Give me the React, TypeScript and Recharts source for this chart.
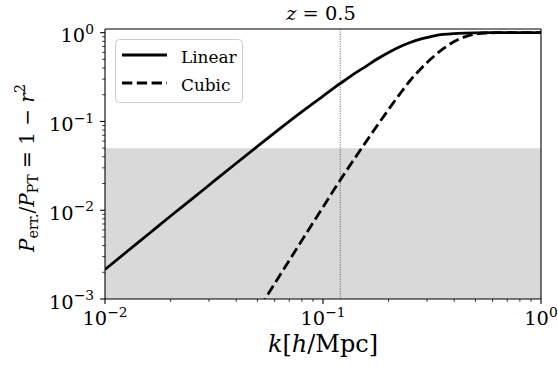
import React from 'react';
import {
  ComposedChart, Line, XAxis, YAxis, ReferenceArea, ReferenceLine, Customized,
} from 'recharts';

const FONT = "'DejaVu Serif', 'Liberation Serif', serif";

const kLinear = [0.01, 0.0125, 0.0158, 0.02, 0.025, 0.0316, 0.04, 0.05, 0.063, 0.079, 0.1, 0.112, 0.126, 0.141, 0.158, 0.178, 0.2, 0.224, 0.251, 0.282, 0.316, 0.355, 0.398, 0.447, 0.501, 0.562, 0.631, 0.708, 0.794, 0.891, 1.0];
const linearValues = [0.00215, 0.00336, 0.00536, 0.0086, 0.01334, 0.02123, 0.0338, 0.0523, 0.0818, 0.1255, 0.193, 0.238, 0.291, 0.352, 0.42, 0.508, 0.598, 0.69, 0.775, 0.85, 0.91, 0.955, 0.978, 0.99, 0.996, 0.999, 1.0, 1.0, 1.0, 1.0, 1.0];

const kCubic = [0.04, 0.05, 0.063, 0.079, 0.1, 0.112, 0.126, 0.141, 0.158, 0.178, 0.2, 0.224, 0.251, 0.282, 0.316, 0.355, 0.398, 0.447, 0.501, 0.562, 0.631, 0.708, 0.794, 0.891, 1.0];
const cubicValues = [0.000306, 0.00073, 0.0018, 0.00436, 0.01085, 0.01685, 0.02626, 0.03956, 0.0597, 0.0912, 0.1367, 0.2005, 0.2892, 0.3956, 0.5187, 0.657, 0.789, 0.897, 0.963, 0.9919, 0.9991, 1.0, 1.0, 1.0, 1.0];

const xTicks = [0.01, 0.02, 0.03, 0.04, 0.05, 0.06, 0.07, 0.08, 0.09, 0.1, 0.2, 0.3, 0.4, 0.5, 0.6, 0.7, 0.8, 0.9, 1];
const yTicks = [0.001, 0.002, 0.003, 0.004, 0.005, 0.006, 0.007, 0.008, 0.009, 0.01, 0.02, 0.03, 0.04, 0.05, 0.06, 0.07, 0.08, 0.09, 0.1, 0.2, 0.3, 0.4, 0.5, 0.6, 0.7, 0.8, 0.9, 1];

const seriesNames = ['Linear', 'Cubic'];
const shadeTop = 0.05;
const kMarker = 0.12;

const linearData = kLinear.map((k, i) => ({ k, y: linearValues[i] }));
const cubicData = kCubic.map((k, i) => ({ k, y: cubicValues[i] }));

const isMajor = (v: number) => Math.abs(Math.log10(v) - Math.round(Math.log10(v))) < 1e-9;
const expOf = (v: number) => {
  const e = Math.round(Math.log10(v));
  return e < 0 ? '\u2212' + Math.abs(e) : String(e);
};

const txt = { fontFamily: FONT };

const XTick = (props: any) => {
  const { x, y, payload } = props;
  const v = payload.value;
  const major = isMajor(v);
  return (
    <g>
      <line x1={x} x2={x} y1={y} y2={y + (major ? 4.9 : 2.8)} stroke="#000" strokeWidth={major ? 1.1 : 0.8} />
      {major && (
        <text x={x} y={y + 26} textAnchor="middle" style={txt} fontSize={19.4} fill="#000">
          10<tspan dy={-8.5} fontSize={13.8}>{expOf(v)}</tspan>
        </text>
      )}
    </g>
  );
};

const YTick = (props: any) => {
  const { x, y, payload } = props;
  const v = payload.value;
  const major = isMajor(v);
  return (
    <g>
      <line x1={x} x2={x - (major ? 4.9 : 2.8)} y1={y} y2={y} stroke="#000" strokeWidth={major ? 1.1 : 0.8} />
      {major && (
        <text x={x - 11} y={y + 9.6} textAnchor="end" style={txt} fontSize={19.4} fill="#000">
          10<tspan dy={-8.5} fontSize={13.8}>{expOf(v)}</tspan>
        </text>
      )}
    </g>
  );
};

const Texts = () => (
  <g fill="#000" style={txt}>
    <g>
      <rect x={115.5} y={39.5} width={127} height={63} rx={4} ry={4} fill="#fff" fillOpacity={0.8} stroke="#cccccc" strokeWidth={1} />
      <line x1={122} x2={167} y1={55} y2={55} stroke="#000" strokeWidth={2.8} />
      <line x1={122} x2={167} y1={83} y2={83} stroke="#000" strokeWidth={2.8} strokeDasharray="10.3 4.5" />
      <text x={181} y={63} style={txt} fontSize={16.9}>{seriesNames[0]}</text>
      <text x={181} y={91} style={txt} fontSize={16.9}>{seriesNames[1]}</text>
    </g>
    <text x={321} y={20} textAnchor="middle" style={txt} fontSize={19.4}>
      <tspan fontStyle="italic">z</tspan> = 0.5
    </text>
    <text x={323} y={352} textAnchor="middle" style={txt} fontSize={24}>
      <tspan fontStyle="italic">k</tspan>[<tspan fontStyle="italic">h</tspan>/Mpc]
    </text>
    <text transform="translate(34,168) rotate(-90)" textAnchor="middle" style={txt} fontSize={20}>
      <tspan fontStyle="italic">P</tspan>
      <tspan dy={4} fontSize={14.2}>err.</tspan>
      <tspan dy={-4}>/</tspan>
      <tspan fontStyle="italic">P</tspan>
      <tspan dy={4} fontSize={14.2}>PT</tspan>
      <tspan dy={-4}> = 1 − </tspan>
      <tspan fontStyle="italic">r</tspan>
      <tspan dy={-9} fontSize={14.2}>2</tspan>
    </text>
  </g>
);

export default function App() {
  return (
    <div style={{ position: 'absolute', left: 0, top: 0, background: '#fff' }}>
      <ComposedChart width={558} height={370} margin={{ top: 29, right: 17, bottom: 0, left: 0 }}>
        <XAxis
          dataKey="k" type="number" scale="log" domain={[0.01, 1]} allowDataOverflow
          ticks={xTicks} interval={0} tickSize={0} tickMargin={0} tickLine={false}
          axisLine={{ stroke: '#000', strokeWidth: 1.1 }} tick={<XTick />} height={71}
        />
        <YAxis
          type="number" scale="log" domain={[0.001, 1.1]} allowDataOverflow
          ticks={yTicks} interval={0} tickSize={0} tickMargin={0} tickLine={false}
          axisLine={{ stroke: '#000', strokeWidth: 1.1 }} tick={<YTick />} width={105}
        />
        <ReferenceArea x1={0.01} x2={1} y1={0.001} y2={shadeTop} fill="#d9d9d9" fillOpacity={1} stroke="none" ifOverflow="visible" />
        <ReferenceLine x={kMarker} stroke="#333" strokeWidth={0.8} strokeDasharray="1 1.4" />
        <Line data={linearData} dataKey="y" name={seriesNames[0]} type="monotone" stroke="#000" strokeWidth={2.8} dot={false} isAnimationActive={false} />
        <Line data={cubicData} dataKey="y" name={seriesNames[1]} type="monotone" stroke="#000" strokeWidth={2.8} strokeDasharray="10.3 4.5" dot={false} isAnimationActive={false} />
        <ReferenceLine y={1.1} stroke="#000" strokeWidth={1.1} ifOverflow="visible" />
        <ReferenceLine x={1} stroke="#000" strokeWidth={1.1} ifOverflow="visible" />
        <Customized component={<Texts />} />
      </ComposedChart>
    </div>
  );
}
